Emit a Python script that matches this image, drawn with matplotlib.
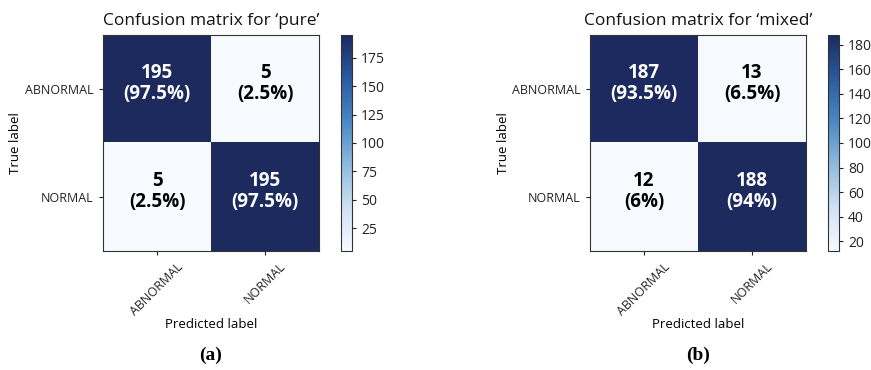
import matplotlib
matplotlib.use("Agg")
import matplotlib.pyplot as plt
import numpy as np
from matplotlib.colors import LinearSegmentedColormap

# class names and confusion counts for each run
classes = ["ABNORMAL", "NORMAL"]
pure_counts = [[195, 5], [5, 195]]
mixed_counts = [[187, 13], [12, 188]]
pure_ticks = [25, 50, 75, 100, 125, 150, 175]
mixed_ticks = [20, 40, 60, 80, 100, 120, 140, 160, 180]
titles = ["Confusion matrix for \u2018pure\u2019", "Confusion matrix for \u2018mixed\u2019"]
captions = ["(a)", "(b)"]

plt.rcParams['font.family'] = ['Open Sans', 'DejaVu Sans']
plt.rcParams['axes.edgecolor'] = '#333333'
plt.rcParams['xtick.color'] = '#222222'
plt.rcParams['ytick.color'] = '#222222'

# white -> blue -> navy, close to Blues but with a darker top end
cmap = LinearSegmentedColormap.from_list(
    "navy_blues", ["#f7fbff", "#d0e0f3", "#8fbadc", "#4a88c2", "#2a5aa0", "#1c2a5e"])

W, H = 871, 370
fig = plt.figure(figsize=(W / 100, H / 100), dpi=100)


def draw_cm(cm, ax_px, cax_px, title, caption, ticks):
    cm = np.array(cm)
    aw = ax_px[2] - ax_px[0]
    ah = ax_px[3] - ax_px[1]
    ax = fig.add_axes([ax_px[0] / W, 1 - ax_px[3] / H, aw / W, ah / H])
    cax = fig.add_axes([cax_px[0] / W, 1 - cax_px[3] / H, (cax_px[2] - cax_px[0]) / W, (cax_px[3] - cax_px[1]) / H])
    im = ax.imshow(cm, interpolation='nearest', cmap=cmap, aspect='auto')
    cb = fig.colorbar(im, cax=cax, ticks=ticks)
    cb.ax.tick_params(labelsize=10, length=3, colors='#222222')
    cb.outline.set_edgecolor('#333333')
    ax.set_title(title, fontsize=12.5, color='#111111', pad=7)
    ax.set_xticks(np.arange(len(classes)))
    ax.set_yticks(np.arange(len(classes)))
    ax.set_xticklabels(classes, rotation=45, fontsize=9)
    ax.set_yticklabels(classes, fontsize=9)
    ax.tick_params(length=3)
    ax.set_ylabel("True label", fontsize=9.5)
    ax.set_xlabel("Predicted label", fontsize=9.5)
    # axis labels sit a fixed distance from the heatmap
    ax.yaxis.set_label_coords(-87 / aw, 0.5)
    ax.xaxis.set_label_coords(0.5, -74 / ah)
    ax.xaxis.label.set_va('center')
    ax.yaxis.label.set_va('center')
    thresh = cm.max() / 2.0
    for i in range(cm.shape[0]):
        for j in range(cm.shape[1]):
            pct = 100.0 * cm[i, j] / cm[i].sum()
            pct_txt = f"{pct:g}%"
            ax.text(j, i - 0.05, f"{cm[i, j]}\n({pct_txt})", ha='center', va='center',
                    fontsize=13.5, fontweight='bold', linespacing=1.1,
                    color='white' if cm[i, j] > thresh else 'black')
    # subfigure caption
    cx = (ax_px[0] + ax_px[2]) / 2 / W
    fig.text(cx, 1 - 355 / H, caption, ha='center', va='center', fontsize=14,
             fontweight='bold', family='Liberation Serif')


draw_cm(pure_counts, (103, 35, 319, 251), (341, 35, 352, 251), titles[0], captions[0], pure_ticks)
draw_cm(mixed_counts, (590, 35, 806, 251), (828, 35, 839, 251), titles[1], captions[1], mixed_ticks)

plt.savefig("out.png", dpi=100)
plt.close()
